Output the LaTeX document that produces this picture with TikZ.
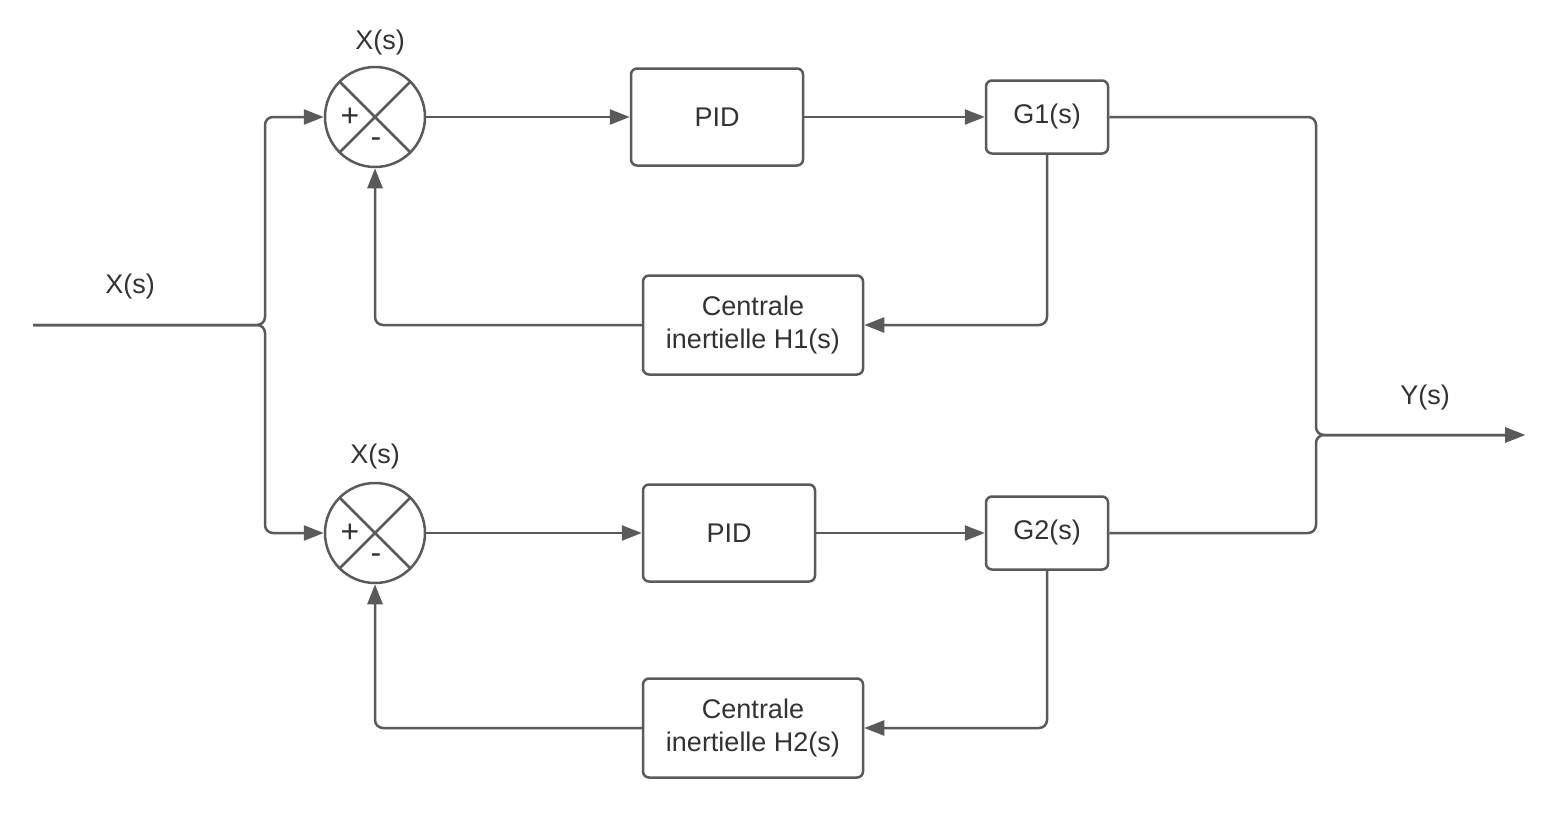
\documentclass[tikz,border=0pt]{standalone}
\usepackage{fontspec}
\setmainfont{Liberation Sans}
\usetikzlibrary{arrows.meta,calc}
\definecolor{ln}{HTML}{5A5A5A}
\definecolor{tx}{HTML}{333333}
\begin{document}
\begin{tikzpicture}[x=1pt,y=-1pt,
  every node/.style={text=tx,font=\fontsize{27}{33}\selectfont},
  blk/.style={draw=ln,line width=2.5pt,rounded corners=6pt,align=center,inner sep=0pt},
  sumc/.style={draw=ln,line width=2.5pt,circle,minimum size=100pt,inner sep=0pt},
  wire/.style={draw=ln,line width=2.5pt,rounded corners=8pt},
  arr/.style={wire,-{Triangle[length=20pt,width=15pt]}},
  lbl/.style={inner sep=0pt},
  sgn/.style={inner sep=0pt,font=\fontsize{32}{32}\selectfont}]
\useasboundingbox (0,0) rectangle (1550,830);
% top loop
\node[sumc] (s1) at (375,117) {};
\draw[ln,line width=2.5pt] (s1.north west) -- (s1.south east) (s1.north east) -- (s1.south west);
\node[sgn] (p1) at (350,117) {+};
\node[sgn] (m1) at (376,143) {-};
\node[lbl] (xs1) at (380,43) {X(s)};
\node[blk,minimum width=172pt,minimum height=97pt] (pid1) at (717,117) {PID};
\node[blk,minimum width=122pt,minimum height=73pt] (g1) at (1047,117) {G1(s)};
\node[blk,minimum width=220pt,minimum height=99pt] (h1) at (753,325) {Centrale\\inertielle H1(s)};
% bottom loop
\node[sumc] (s2) at (375,533) {};
\draw[ln,line width=2.5pt] (s2.north west) -- (s2.south east) (s2.north east) -- (s2.south west);
\node[sgn] (p2) at (350,533) {+};
\node[sgn] (m2) at (376,559) {-};
\node[lbl] (xs2) at (375,457) {X(s)};
\node[blk,minimum width=172pt,minimum height=97pt] (pid2) at (729,533) {PID};
\node[blk,minimum width=122pt,minimum height=73pt] (g2) at (1047,533) {G2(s)};
\node[blk,minimum width=220pt,minimum height=99pt] (h2) at (753,728) {Centrale\\inertielle H2(s)};
% input
\coordinate (in) at (33,325);
\coordinate (split) at (265,325);
\node[lbl] (xin) at (130,287) {X(s)};
\draw[arr] (in) -- (split) -- (split |- s1) -- (s1.west);
\draw[arr] (in) -- (split) -- (split |- s2) -- (s2.west);
% forward paths
\draw[arr] (s1.east) -- (pid1.west |- s1.east);
\draw[arr] (pid1.east) -- (g1.west);
\draw[arr] (s2.east) -- (pid2.west |- s2.east);
\draw[arr] (pid2.east) -- (g2.west);
% feedback
\draw[arr] (g1.south) -- (g1.south |- h1.east) -- (h1.east);
\draw[arr] (h1.west) -- (s1.south |- h1.west) -- (s1.south);
\draw[arr] (g2.south) -- (g2.south |- h2.east) -- (h2.east);
\draw[arr] (h2.west) -- (s2.south |- h2.west) -- (s2.south);
% output
\coordinate (join) at (1316,435);
\coordinate (out) at (1525,435);
\node[lbl] (ys) at (1425,398) {Y(s)};
\draw[arr] (g1.east) -- (join |- g1.east) -- (join) -- (out);
\draw[arr] (g2.east) -- (join |- g2.east) -- (join) -- (out);
\end{tikzpicture}
\end{document}
